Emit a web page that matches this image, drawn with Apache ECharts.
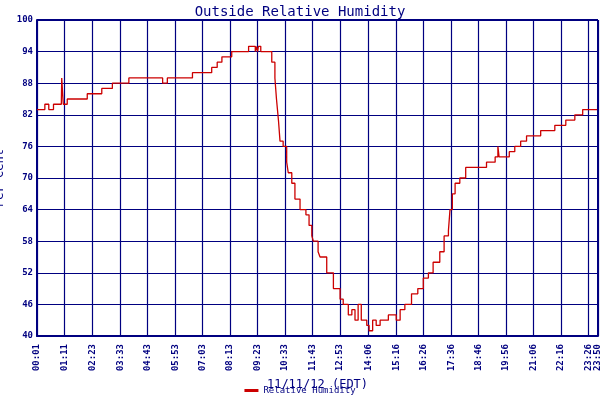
<!DOCTYPE html>
<html><head><meta charset="utf-8">
<script src="https://cdn.jsdelivr.net/npm/echarts@6/dist/echarts.min.js"></script>
<style>html,body{margin:0;background:#fff}#c{width:600px;height:400px}</style>
</head><body><div id="c"></div>
<script>
const minutes = [1,21,31,43,63,64,68,78,129,166,193,235,321,333,397,446,460,472,497,540,557,559,563,565,571,592,599,607,611,616,620,628,637,641,650,658,671,686,694,701,705,717,722,739,756,773,781,794,803,811,819,827,841,847,856,865,875,896,916,926,938,955,971,985,998,1010,1027,1038,1049,1053,1059,1066,1078,1093,1146,1168,1175,1178,1204,1218,1233,1248,1284,1320,1348,1371,1391,1429];
const humidity = [83,84,83,84,84,89,84,85,86,87,88,89,88,89,90,91,92,93,94,95,94,95,94,95,94,94,92,89,85,81,77,76,73,71,69,66,64,63,61,59,58,56,55,52,49,47,46,44,45,43,46,43,42,41,43,42,43,44,43,45,46,48,49,51,52,54,56,59,60,64,67,69,70,72,73,74,76,74,75,76,77,78,79,80,81,82,83,84];
const tickMinutes = [1,71,143,213,283,353,423,493,563,633,703,773,846,916,986,1056,1126,1196,1266,1336,1406,1430];
const tickLabels = ['00:01','01:11','02:23','03:33','04:43','05:53','07:03','08:13','09:23','10:33','11:43','12:53','14:06','15:16','16:26','17:36','18:46','19:56','21:06','22:16','23:26','23:50'];
const navy = '#000080', font = 'DejaVu Sans Mono';
const lab = {}; tickMinutes.forEach((m,i)=>lab[m]=tickLabels[i]);
const chart = echarts.init(document.getElementById('c'));
chart.setOption({
  animation:false, backgroundColor:'#fff',
  title:{text:'Outside Relative Humidity',left:'center',top:0,textStyle:{color:navy,fontFamily:font,fontSize:14,fontWeight:'normal'}},
  legend:{bottom:0,left:'center',itemWidth:14,itemHeight:3,icon:'rect',textStyle:{color:navy,fontFamily:font,fontSize:9}},
  grid:{left:37,right:2,top:20,bottom:64,containLabel:false,outerBoundsMode:'none'},
  xAxis:{type:'value',min:1,max:1430,name:'11/11/12 (EDT)',nameLocation:'middle',nameGap:42,
    nameTextStyle:{color:navy,fontFamily:font,fontSize:12},
    axisLine:{show:true,lineStyle:{color:navy,width:2}},
    axisTick:{show:false,customValues:tickMinutes},
    axisLabel:{customValues:tickMinutes,rotate:90,color:navy,fontFamily:font,fontSize:9,fontWeight:'bold',formatter:v=>lab[v]||''},
    splitLine:{show:true,lineStyle:{color:navy,width:1.2}}},
  yAxis:{type:'value',min:40,max:100,interval:6,name:'Per Cent',nameLocation:'middle',nameGap:26,
    nameTextStyle:{color:navy,fontFamily:font,fontSize:12},
    axisLine:{show:true,lineStyle:{color:navy,width:2}},axisTick:{show:false},
    axisLabel:{color:navy,fontFamily:font,fontSize:9,fontWeight:'bold',margin:4},
    splitLine:{lineStyle:{color:navy,width:1.2}}},
  series:[{name:'Relative Humidity',type:'line',step:'end',showSymbol:false,
    data:minutes.map((m,i)=>[m,humidity[i]]),lineStyle:{color:'#cc0000',width:1.3},itemStyle:{color:'#cc0000'}},
   {type:'line',data:[],markLine:{silent:true,symbol:'none',label:{show:false},lineStyle:{color:navy,type:'solid',width:2},data:[{yAxis:100},{xAxis:1430}]}}]
});
</script></body></html>
